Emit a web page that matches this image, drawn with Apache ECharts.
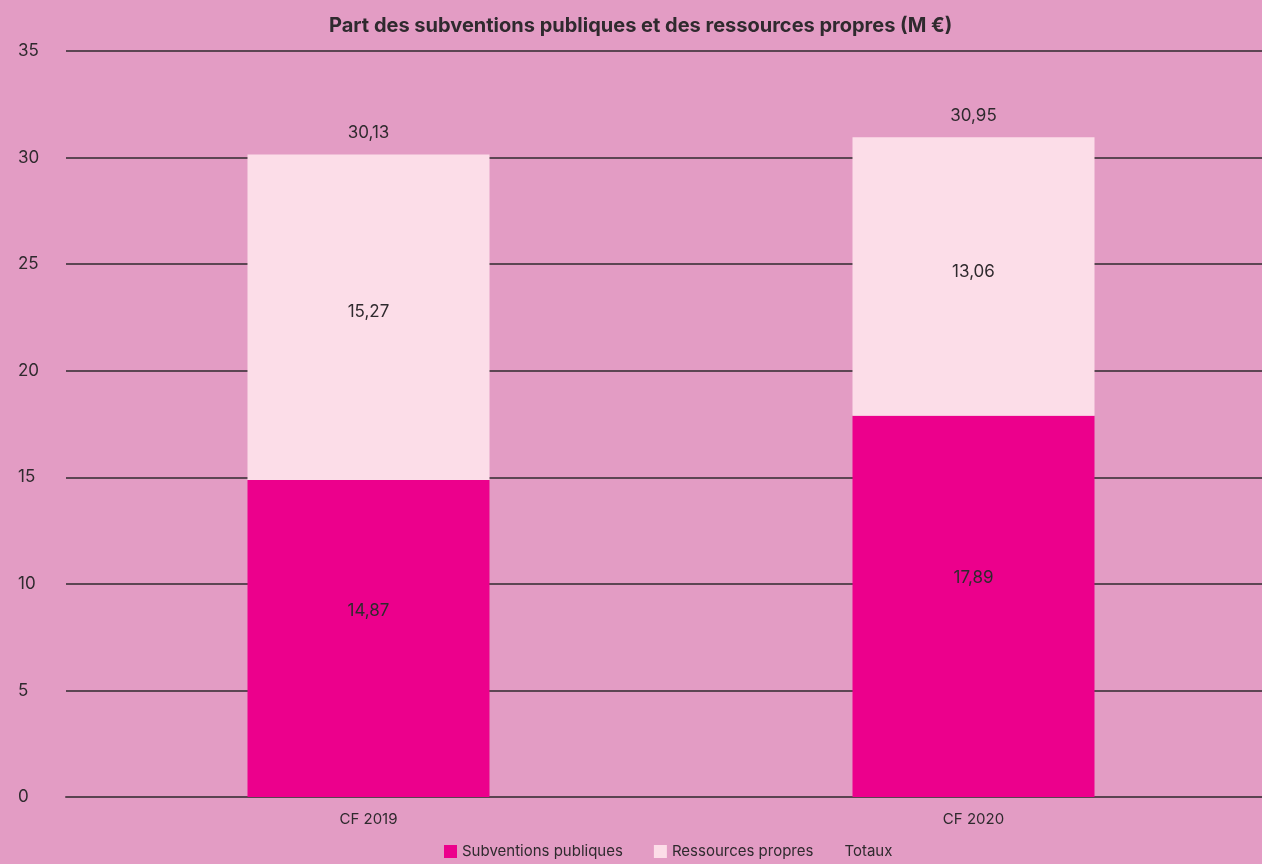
<!DOCTYPE html>
<html lang="fr">
<head>
  <meta charset="UTF-8">
  <title>Part des subventions publiques et des ressources propres</title>
  <script src="https://cdn.jsdelivr.net/npm/echarts@6/dist/echarts.min.js"></script>
  <style>
    html, body { margin: 0; padding: 0; background: #E39CC4; }
    #chart { width: 1262px; height: 864px; }
  </style>
</head>
<body>
  <div id="chart"></div>
  <script>
    // données
    var categories = ['CF 2019', 'CF 2020'];
    var subventions = [14.87, 17.89];
    var ressources = [15.27, 13.06];
    var totaux = [30.13, 30.95];
    var yTicks = [0, 5, 10, 15, 20, 25, 30, 35];

    var txt = '#2f2a2e';
    var font = 'Inter, "Noto Sans", sans-serif';
    function fr(p) { return String(p.value).replace('.', ','); }

    var chart = echarts.init(document.getElementById('chart'));
    chart.setOption({
      backgroundColor: '#E39CC4',
      animation: false,
      title: {
        text: 'Part des subventions publiques et des ressources propres (M €)',
        left: 324,
        top: 11,
        textStyle: { fontFamily: font, fontSize: 20, fontWeight: 'bold', color: txt }
      },
      legend: {
        bottom: 0,
        left: 439,
        itemWidth: 13,
        itemHeight: 13,
        itemGap: 31,
        textStyle: { fontFamily: font, fontSize: 15, color: txt },
        data: [
          { name: 'Subventions publiques', icon: 'rect' },
          { name: 'Ressources propres', icon: 'rect' },
          { name: 'Totaux', icon: 'none', textStyle: { padding: [0, 0, 0, -30] } }
        ]
      },
      grid: { left: 66, width: 1210, top: 51, bottom: 67, outerBoundsMode: 'none' },
      xAxis: {
        type: 'category',
        data: categories,
        axisTick: { show: false },
        axisLine: { lineStyle: { color: '#5a4350', width: 2 } },
        axisLabel: { margin: 15, fontFamily: font, fontSize: 15, color: txt }
      },
      yAxis: {
        type: 'value',
        min: yTicks[0],
        max: yTicks[yTicks.length - 1],
        interval: 5,
        axisLine: { show: false },
        axisTick: { show: false },
        splitLine: { lineStyle: { color: '#2f2a2e', width: 1.5 } },
        axisLabel: {
          align: 'left',
          margin: 48,
          verticalAlign: 'middle',
          padding: [0, 0, 5, 0],
          fontFamily: font,
          fontSize: 17,
          color: txt
        }
      },
      series: [
        {
          name: 'Subventions publiques',
          type: 'bar',
          stack: 'total',
          barWidth: '40%',
          data: subventions,
          itemStyle: { color: '#EC008C' },
          label: {
            show: true, position: 'inside', offset: [0, -28], formatter: fr,
            fontFamily: font, fontSize: 17, color: txt
          }
        },
        {
          name: 'Ressources propres',
          type: 'bar',
          stack: 'total',
          barWidth: '40%',
          data: ressources,
          itemStyle: { color: '#FCDDE8' },
          label: {
            show: true, position: 'inside', offset: [0, -5], formatter: fr,
            fontFamily: font, fontSize: 17, color: txt
          }
        },
        {
          name: 'Totaux',
          type: 'bar',
          barWidth: '40%',
          barGap: '-100%',
          z: 1,
          data: totaux,
          itemStyle: { color: 'rgba(0,0,0,0)' },
          label: {
            show: true, position: 'top', distance: 13, formatter: fr,
            fontFamily: font, fontSize: 17, color: txt
          }
        }
      ]
    });
  </script>
</body>
</html>
